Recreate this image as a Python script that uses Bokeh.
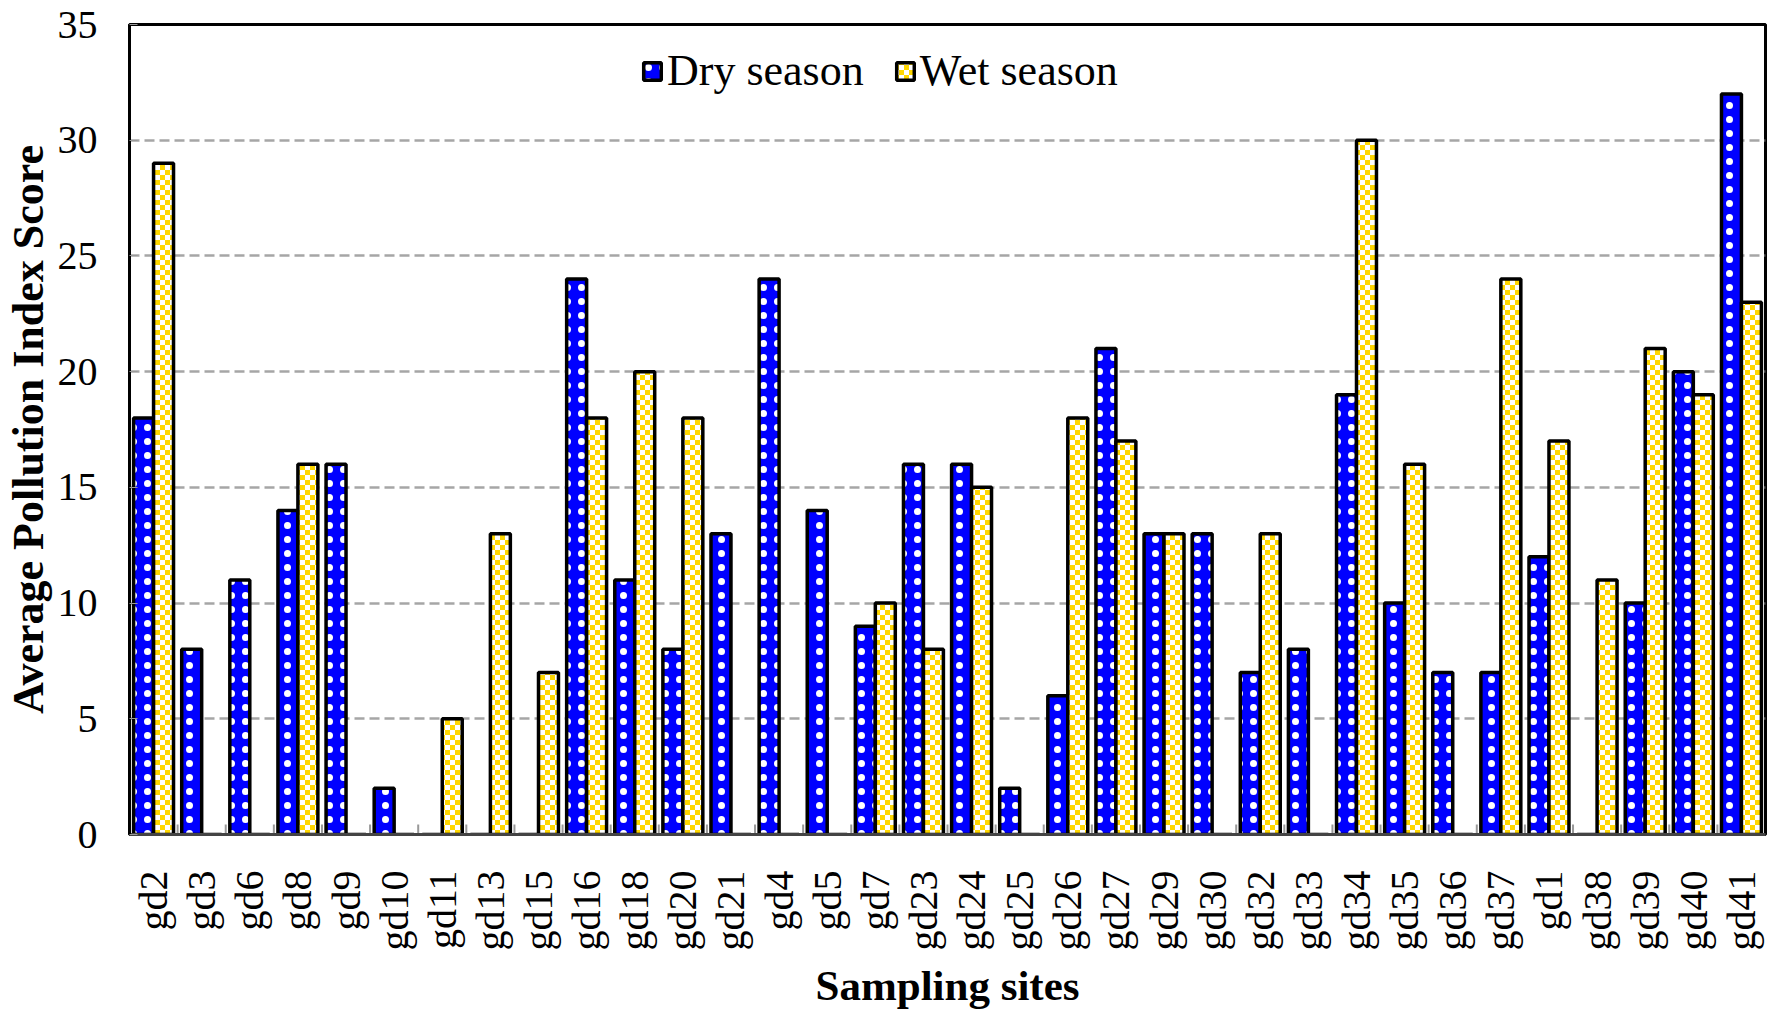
#Grouped bar chart of average pollution index score per sampling site

#Import required packages

import math
import base64
from bokeh.plotting import figure
from bokeh.models import ColumnDataSource, FixedTicker, Legend, LegendItem, Range1d, ImageURLTexture
from bokeh.core.properties import value
from bokeh.transform import dodge
from bokeh.embed import file_html
from bokeh.resources import INLINE

#Data

sites = ['gd2', 'gd3', 'gd6', 'gd8', 'gd9', 'gd10', 'gd11', 'gd13', 'gd15', 'gd16',
         'gd18', 'gd20', 'gd21', 'gd4', 'gd5', 'gd7', 'gd23', 'gd24', 'gd25', 'gd26',
         'gd27', 'gd29', 'gd30', 'gd32', 'gd33', 'gd34', 'gd35', 'gd36', 'gd37', 'gd1',
         'gd38', 'gd39', 'gd40', 'gd41']

dry = [18, 8, 11, 14, 16, 2, 0, 0, 0, 24,
       11, 8, 13, 24, 14, 9, 16, 16, 2, 6,
       21, 13, 13, 7, 8, 19, 10, 7, 7, 12,
       0, 10, 20, 32]

wet = [29, 0, 0, 16, 0, 0, 5, 13, 7, 18,
       20, 18, 0, 0, 0, 10, 8, 15, 0, 18,
       17, 13, 0, 13, 0, 30, 16, 0, 24, 17,
       11, 21, 19, 23]

y_ticks = [0, 5, 10, 15, 20, 25, 30, 35]

src = ColumnDataSource(data={'site': sites, 'dry': dry, 'wet': wet})
edges = ColumnDataSource(data={'site': sites[:-1]})

#Checker texture for the wet season bars (small svg image)

checker_svg = ('<svg xmlns="http://www.w3.org/2000/svg" width="10" height="10">'
               '<rect width="10" height="10" fill="#FFD700"/>'
               '<rect width="5" height="5" fill="#FFFFFF"/>'
               '<rect x="5" y="5" width="5" height="5" fill="#FFFFFF"/></svg>')
checker = ImageURLTexture(url='data:image/svg+xml;base64,' + base64.b64encode(checker_svg.encode()).decode(),
                          repetition='repeat')

#Create the plot

p = figure(x_range=sites, y_range=Range1d(0, 35), frame_width=1636, frame_height=810,
           output_backend="svg", toolbar_location=None,
           min_border_left=123, min_border_right=2, min_border_top=24, min_border_bottom=150)

p.outline_line_color = 'black'
p.outline_line_width = 3
p.background_fill_color = 'white'
p.border_fill_color = 'white'

r_dry = p.vbar(x=dodge('site', -0.2075, range=p.x_range), top='dry', width=0.415, source=src,
               fill_color='#0000FF', line_color='black', line_width=3.5,
               hatch_pattern='dot', hatch_color='white', hatch_scale=14, hatch_weight=1)

r_wet = p.vbar(x=dodge('site', 0.2075, range=p.x_range), top='wet', width=0.415, source=src,
               fill_color='#FFD700', line_color='black', line_width=3.5,
               hatch_pattern=value('checker'), hatch_extra={'checker': checker})

#Small ticks between the sites

p.segment(x0=dodge('site', 0.5, range=p.x_range), x1=dodge('site', 0.5, range=p.x_range),
          y0=0, y1=0.43, source=edges, line_color='#999999', line_width=2)

#Axes

p.yaxis.ticker = FixedTicker(ticks=y_ticks)
p.yaxis.axis_label = 'Average Pollution Index Score'
p.yaxis.axis_label_text_font = 'Liberation Serif'
p.yaxis.axis_label_text_font_style = 'bold'
p.yaxis.axis_label_text_font_size = '44px'
p.yaxis.axis_label_text_color = 'black'
p.yaxis.axis_label_standoff = 2
p.yaxis.major_label_text_font = 'Liberation Serif'
p.yaxis.major_label_text_font_size = '40px'
p.yaxis.major_label_text_color = 'black'
p.yaxis.major_label_standoff = 32
p.yaxis.major_tick_out = 0
p.yaxis.major_tick_in = 8
p.yaxis.major_tick_line_color = '#999999'
p.yaxis.minor_tick_line_color = None
p.yaxis.axis_line_color = 'black'
p.yaxis.axis_line_width = 3

p.xaxis.axis_label = 'Sampling sites'
p.xaxis.axis_label_text_font = 'Liberation Serif'
p.xaxis.axis_label_text_font_style = 'bold'
p.xaxis.axis_label_text_font_size = '43px'
p.xaxis.axis_label_text_color = 'black'
p.xaxis.axis_label_standoff = 8
p.xaxis.major_label_orientation = math.pi / 2
p.xaxis.major_label_text_font = 'Liberation Serif'
p.xaxis.major_label_text_font_size = '40px'
p.xaxis.major_label_text_color = 'black'
p.xaxis.major_label_standoff = 30
p.xaxis.major_tick_line_color = None
p.xaxis.axis_line_color = '#444444'
p.xaxis.axis_line_width = 3

#Grid

p.xgrid.grid_line_color = None
p.ygrid.ticker = FixedTicker(ticks=y_ticks)
p.ygrid.grid_line_color = '#A6A6A6'
p.ygrid.grid_line_width = 2.5
p.ygrid.grid_line_dash = '10 5'

#Legend

legend = Legend(items=[LegendItem(label='Dry season', renderers=[r_dry]),
                       LegendItem(label='Wet season', renderers=[r_wet])],
                orientation='horizontal', location=(512, 738),
                border_line_color=None, background_fill_alpha=0,
                label_text_font='Liberation Serif', label_text_font_size='44px',
                label_text_color='black', glyph_width=22, glyph_height=22,
                label_standoff=4, spacing=30, padding=0, margin=0)
p.add_layout(legend, 'center')

#Output the plot

open("out.html", "w").write(file_html(p, INLINE))
